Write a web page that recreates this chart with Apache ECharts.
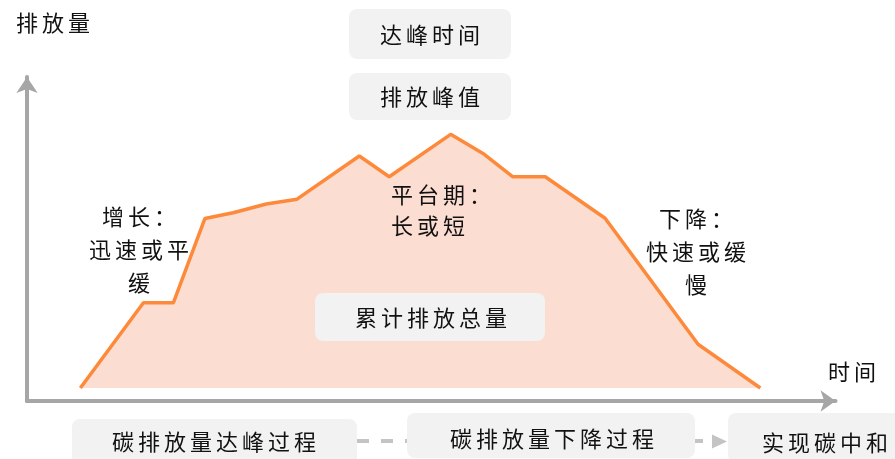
<!DOCTYPE html>
<html>
<head>
<meta charset="utf-8">
<script src="https://cdn.jsdelivr.net/npm/echarts@6/dist/echarts.min.js"></script>
<style>
html,body{margin:0;padding:0;background:#fff;}
#chart{width:895px;height:459px;}
</style>
</head>
<body>
<div id="chart"></div>
<script>
// Time (arbitrary units) and emission values (arbitrary units)
const timePoints = [6.6, 14.4, 18.1, 22.0, 25.5, 29.6, 33.4, 41.1, 44.8, 52.4, 56.4, 60.1, 64.1, 71.5, 83.0, 90.7];
const emissionValues = [0, 26.3, 26.3, 52.3, 54.1, 56.8, 58.3, 71.6, 65.2, 78.3, 72.4, 65.2, 65.2, 52.4, 13.5, 0];

const axisNames = ['时间', '排放量'];
const topLabels = ['达峰时间', '排放峰值'];
const areaLabel = '累计排放总量';
const phaseNotes = ['增长：\n迅速或平\n缓', '平台期：\n长或短', '下降：\n快速或缓\n慢'];
const processSteps = ['碳排放量达峰过程', '碳排放量下降过程', '实现碳中和'];

// Wide CJK letter spacing like the original typesetting
(function () {
  const LS = '4px';
  const P = CanvasRenderingContext2D.prototype;
  if (!('letterSpacing' in P)) return;
  const ft = P.fillText, mt = P.measureText, st = P.strokeText;
  P.fillText = function () { this.letterSpacing = LS; return ft.apply(this, arguments); };
  P.strokeText = function () { this.letterSpacing = LS; return st.apply(this, arguments); };
  P.measureText = function () { this.letterSpacing = LS; return mt.apply(this, arguments); };
})();

const FONT = "22px 'Noto Sans CJK SC', 'Noto Sans', sans-serif";
const BOX = '#f2f2f2';
const CONN = '#c4c4c4';

function txt(text, x, y, align, lh) {
  return {
    type: 'text', x: x, y: y, z: 10,
    style: {
      text: text, font: FONT, fill: '#111',
      align: align || 'center', verticalAlign: 'middle',
      textAlign: align || 'center', textVerticalAlign: 'middle',
      lineHeight: lh || 30
    }
  };
}
function box(x, y, w, h) {
  return { type: 'rect', z: 5, shape: { x: x, y: y, width: w, height: h, r: 8 }, style: { fill: BOX } };
}

const chart = echarts.init(document.getElementById('chart'), null, { renderer: 'canvas' });
chart.setOption({
  animation: false,
  backgroundColor: '#fff',
  grid: { left: 27, right: 59.5, top: 77, bottom: 58 },
  xAxis: {
    type: 'value', min: 0, max: 100,
    axisLine: { show: true, onZero: false, symbol: ['none', 'arrow'], symbolSize: [16, 15],
      lineStyle: { color: '#a6a6a6', width: 4 } },
    axisTick: { show: false }, axisLabel: { show: false }, splitLine: { show: false }
  },
  yAxis: {
    type: 'value', min: -4, max: 96,
    axisLine: { show: true, onZero: false, symbol: ['none', 'arrow'], symbolSize: [16, 16],
      lineStyle: { color: '#a6a6a6', width: 4 } },
    axisTick: { show: false }, axisLabel: { show: false }, splitLine: { show: false }
  },
  series: [{
    type: 'line',
    data: timePoints.map((t, i) => [t, emissionValues[i]]),
    symbol: 'none',
    lineStyle: { color: '#fd8a3b', width: 3.5 },
    areaStyle: { color: '#fcddd2', opacity: 1, origin: 0 },
    z: 2
  }],
  graphic: [
    box(349, 9, 162, 50),
    box(349, 73, 162, 47),
    box(315, 293, 230, 48),
    box(72, 419, 285, 50),
    box(407, 413, 288, 45),
    box(728, 413, 180, 50),
    { type: 'line', z: 4, shape: { x1: 357, y1: 441, x2: 407, y2: 441 },
      style: { stroke: CONN, lineWidth: 4, lineDash: [12, 12] } },
    { type: 'line', z: 4, shape: { x1: 695, y1: 441, x2: 703, y2: 441 },
      style: { stroke: CONN, lineWidth: 4 } },
    { type: 'polygon', z: 4, shape: { points: [[712, 434.5], [727, 441.5], [712, 448.5]] },
      style: { fill: CONN } },
    txt(axisNames[1], 55, 23),
    txt(axisNames[0], 854, 372),
    txt(topLabels[0], 432, 35),
    txt(topLabels[1], 432, 97),
    txt(areaLabel, 433, 318),
    txt(phaseNotes[0], 141, 250, 'center', 33),
    txt(phaseNotes[1], 391, 210.5, 'left', 31),
    txt(phaseNotes[2], 698, 252, 'center', 33),
    txt(processSteps[0], 216, 442),
    txt(processSteps[1], 554, 439),
    txt(processSteps[2], 827, 443)
  ]
});
</script>
</body>
</html>
